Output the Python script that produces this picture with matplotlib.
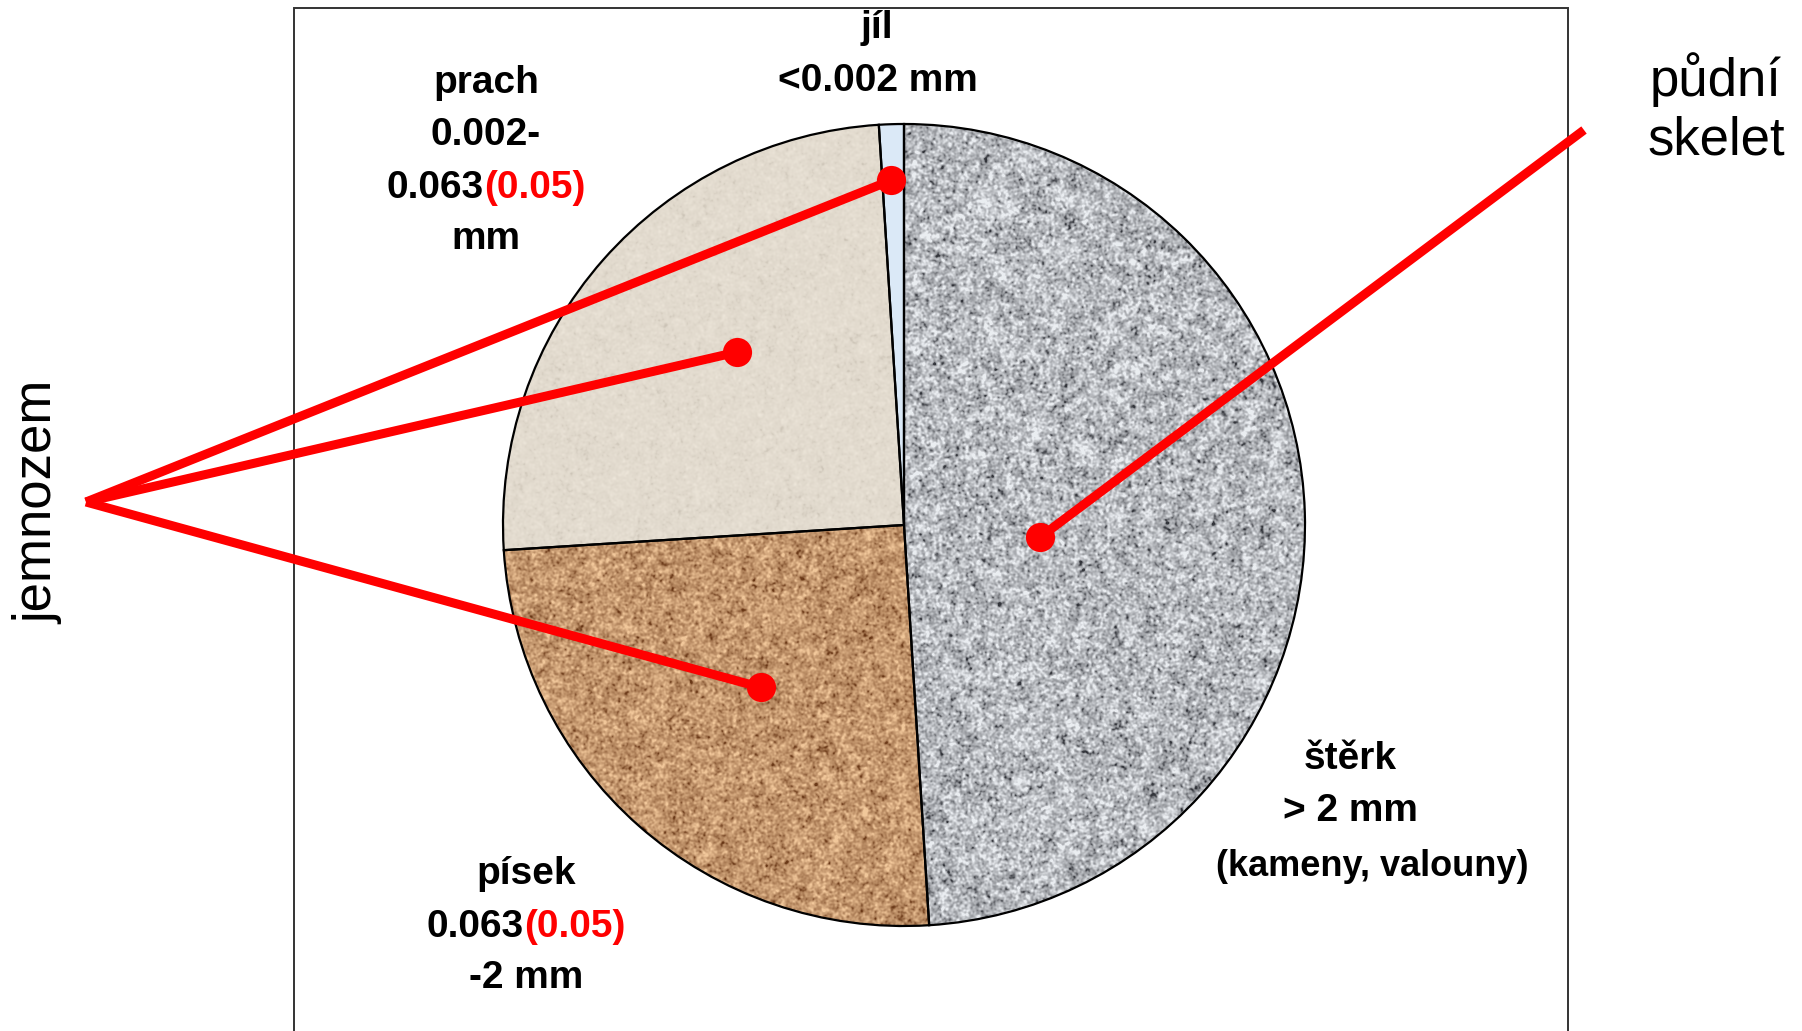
import numpy as np
import matplotlib
matplotlib.use('Agg')
from matplotlib import pyplot as plt
from matplotlib.patches import Wedge, Rectangle
from matplotlib.offsetbox import TextArea, HPacker, AnnotationBbox

plt.rcParams['font.family'] = ['Liberation Sans', 'DejaVu Sans']

# soil fractions by grain size (share of the whole sample, %)
fractions = ['štěrk', 'písek', 'prach', 'jíl']
shares = [49, 25, 25, 1]
base_colors = ['#bcbec2', '#c8936a', '#e3dbcc', '#dbe9f7']

# fine earth (jemnozem) vs. soil skeleton grouping
fine_earth = ['písek', 'prach', 'jíl']
skeleton = ['štěrk']

W, H = 1802, 1031
CX, CY, R = 904, 525, 401  # pie centre and radius in pixels


def at(px, py):
    return (px - CX) / R, (CY - py) / R


def blurred_noise(rng, n, sigma):
    z = rng.standard_normal((n, n))
    f = np.fft.fftfreq(n)
    kx, ky = np.meshgrid(f, f)
    g = np.exp(-2 * (np.pi * sigma) ** 2 * (kx ** 2 + ky ** 2))
    out = np.real(np.fft.ifft2(np.fft.fft2(z) * g))
    return (out - out.mean()) / out.std()


def texture(rng, n, dark, light, mean, spread, speck=0.1):
    v = 0.9 * blurred_noise(rng, n, 1.0) + 0.35 * blurred_noise(rng, n, 4.0)
    t = mean + spread * v - speck * np.clip(-v - 1.4, 0, None)
    t = np.clip(t, 0, 1)[..., None]
    dark = np.array(dark) / 255
    light = np.array(light) / 255
    return dark + t * (light - dark)


rng = np.random.default_rng(7)
N = 802
textures = {
    'štěrk': texture(rng, N, (50, 52, 58), (235, 238, 242), 0.72, 0.15, 0.15),
    'písek': texture(rng, N, (105, 55, 22), (242, 200, 155), 0.66, 0.14, 0.12),
    'prach': texture(rng, N, (150, 140, 125), (240, 233, 221), 0.85, 0.03, 0.05),
}

fig = plt.figure(figsize=(W / 100, H / 100), dpi=100)
ax = fig.add_axes([0, 0, 1, 1])

wedges, _ = ax.pie(shares, colors=base_colors, startangle=90, counterclock=False, radius=1, center=(0, 0),
                   wedgeprops=dict(edgecolor='none'))
for name, w in zip(fractions, wedges):
    if name in textures:
        im = ax.imshow(textures[name], extent=(-1, 1, -1, 1), origin='lower', interpolation='bilinear', zorder=2)
        im.set_clip_path(w)
    ax.add_patch(Wedge(w.center, w.r, w.theta1, w.theta2, fill=False, ec='black', lw=1.6, zorder=3))

ax.set_xlim(-CX / R, (W - CX) / R)
ax.set_ylim(-(H - CY) / R, CY / R)
ax.set_aspect('equal')
ax.axis('off')

# frame around the chart area
ax.add_patch(Rectangle((294 / W, -0.02), (1568 - 294) / W, 1.02 - 8 / H, transform=fig.transFigure,
                       fill=False, ec='#333333', lw=1.4, zorder=1))

# anchor of each leader line inside its wedge: (position along the arc, radius)
anchors = {'štěrk': (0.46, 0.34), 'písek': (0.50, 0.54), 'prach': (0.45, 0.60), 'jíl': (0.60, 0.86)}
dots = {}
for name, w in zip(fractions, wedges):
    t, r = anchors[name]
    ang = np.deg2rad(w.theta1 + t * (w.theta2 - w.theta1))
    dots[name] = (r * np.cos(ang), r * np.sin(ang))

red = '#ff0000'
hub = at(86, 502)
for name in fine_earth:
    x, y = dots[name]
    ax.plot([hub[0], x], [hub[1], y], color=red, lw=6.5, solid_capstyle='butt', zorder=4)
tip = at(1584, 130)
for name in skeleton:
    x, y = dots[name]
    ax.plot([x, tip[0]], [y, tip[1]], color=red, lw=6.5, solid_capstyle='butt', zorder=4)
for name in fractions:
    ax.plot(*dots[name], 'o', color=red, ms=21, mec='none', zorder=5)

bold = dict(fontsize=28, fontweight='bold', ha='center', va='center', color='black')


def label(px, py, s, **kw):
    ax.text(*at(px, py), s, **{**bold, **kw})


def two_tone(px, py, black, colored):
    props = dict(fontsize=28, fontweight='bold')
    box = HPacker(children=[TextArea(black, textprops=dict(color='black', **props)),
                            TextArea(colored, textprops=dict(color=red, **props))], sep=0, pad=0)
    ax.add_artist(AnnotationBbox(box, at(px, py), frameon=False, box_alignment=(0.5, 0.5), pad=0, zorder=6))


label(877, 28, 'jíl')
label(878, 81, '<0.002 mm')

label(486, 83, 'prach')
label(486, 135, '0.002-')
two_tone(486, 188, '0.063', '(0.05)')
label(486, 239, 'mm')

label(526, 874, 'písek')
two_tone(526, 927, '0.063', '(0.05)')
label(526, 978, '-2 mm')

label(1350, 759, 'štěrk')
label(1350, 811, '> 2 mm')
label(1372, 866, '(kameny, valouny)', fontsize=26)

ax.text(*at(1716, 80), 'půdní', fontsize=38, ha='center', va='center')
ax.text(*at(1716, 140), 'skelet', fontsize=38, ha='center', va='center')
ax.text(*at(38, 502), 'jemnozem', fontsize=38, ha='center', va='center', rotation=90)

fig.savefig('out.png', dpi=100)
